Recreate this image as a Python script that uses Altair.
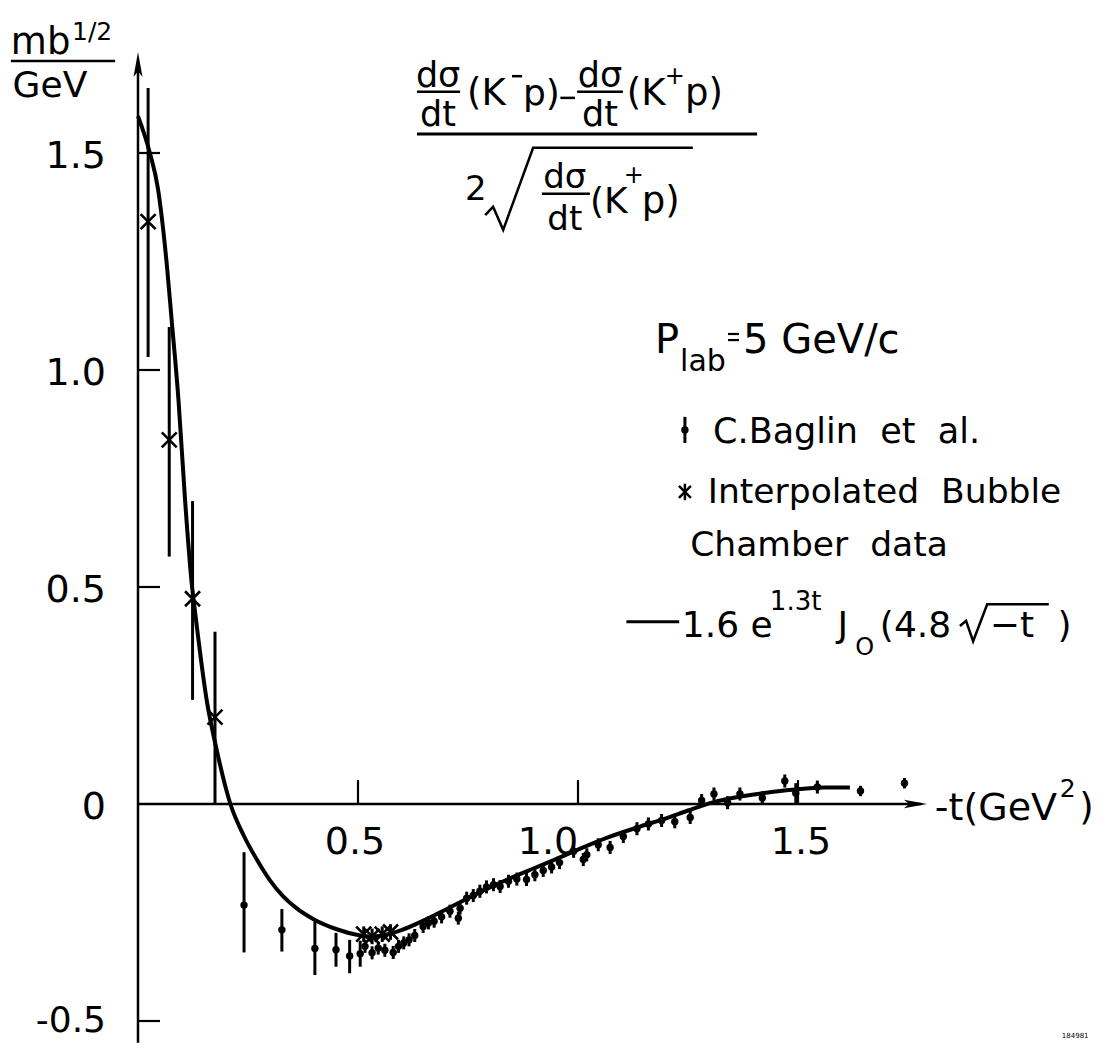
import altair as alt
import pandas as pd

# ------------------------------------------------------------------ data
# fitted curve
curve_t = [0.0, 0.027, 0.045, 0.066, 0.0765, 0.092, 0.107, 0.122, 0.13, 0.156,
           0.179, 0.21, 0.24, 0.27, 0.30, 0.33, 0.36, 0.40, 0.45, 0.50,
           0.53, 0.56, 0.60, 0.65, 0.70, 0.75, 0.80, 0.853, 0.90, 0.95,
           1.0, 1.065, 1.141, 1.20, 1.25, 1.30, 1.35, 1.40, 1.45, 1.50,
           1.56, 1.618]
curve_v = [1.585, 1.50, 1.42, 1.237, 1.115, 0.931, 0.70, 0.509, 0.44, 0.24,
           0.124, 0.0, -0.072, -0.128, -0.176, -0.213, -0.240, -0.266, -0.288, -0.302,
           -0.306, -0.302, -0.290, -0.268, -0.243, -0.217, -0.192, -0.168, -0.148, -0.127,
           -0.105, -0.078, -0.052, -0.033, -0.015, 0.002, 0.014, 0.022, 0.029, 0.034,
           0.038, 0.038]

# C. Baglin et al. points
baglin_t = [0.241, 0.327, 0.402, 0.450, 0.481, 0.505, 0.516, 0.532, 0.546, 0.561,
            0.580, 0.592, 0.604, 0.616, 0.629, 0.648, 0.660, 0.673, 0.690, 0.709,
            0.728, 0.732, 0.747, 0.762, 0.777, 0.792, 0.808, 0.823, 0.842, 0.861,
            0.883, 0.902, 0.921, 0.940, 0.958, 0.990, 1.012, 1.020, 1.046, 1.073,
            1.103, 1.134, 1.160, 1.190, 1.220, 1.255, 1.281, 1.309, 1.340, 1.368,
            1.419, 1.470, 1.495, 1.544, 1.642, 1.742]
baglin_v = [-0.233, -0.290, -0.333, -0.336, -0.350, -0.345, -0.328, -0.343, -0.332, -0.337,
            -0.342, -0.328, -0.320, -0.313, -0.303, -0.282, -0.274, -0.270, -0.260, -0.247,
            -0.263, -0.240, -0.217, -0.211, -0.201, -0.191, -0.186, -0.190, -0.178, -0.173,
            -0.174, -0.163, -0.153, -0.145, -0.135, -0.109, -0.128, -0.117, -0.094, -0.100,
            -0.075, -0.057, -0.046, -0.038, -0.041, -0.031, 0.008, 0.023, 0.003, 0.023,
            0.014, 0.053, 0.025, 0.039, 0.030, 0.048]
baglin_err_lo = [0.109, 0.050, 0.061, 0.039, 0.040, 0.030, 0.015, 0.015, 0.015, 0.015,
                 0.015, 0.015, 0.015, 0.015, 0.015, 0.015, 0.015, 0.015, 0.015, 0.015,
                 0.015, 0.015, 0.015, 0.015, 0.015, 0.015, 0.015, 0.015, 0.015, 0.015,
                 0.015, 0.015, 0.015, 0.015, 0.015, 0.015, 0.015, 0.015, 0.015, 0.015,
                 0.015, 0.015, 0.015, 0.015, 0.015, 0.015, 0.015, 0.015, 0.015, 0.015,
                 0.015, 0.015, 0.025, 0.015, 0.012, 0.012]
baglin_err_hi = [0.122, 0.048, 0.062, 0.039, 0.037, 0.030, 0.015, 0.015, 0.015, 0.015,
                 0.015, 0.015, 0.015, 0.015, 0.015, 0.015, 0.015, 0.015, 0.015, 0.015,
                 0.015, 0.015, 0.015, 0.015, 0.015, 0.015, 0.015, 0.015, 0.015, 0.015,
                 0.015, 0.015, 0.015, 0.015, 0.015, 0.015, 0.015, 0.015, 0.015, 0.015,
                 0.015, 0.015, 0.015, 0.015, 0.015, 0.015, 0.015, 0.015, 0.015, 0.015,
                 0.015, 0.015, 0.023, 0.015, 0.012, 0.012]

# interpolated bubble chamber data
bc_t = [0.023, 0.071, 0.124, 0.175, 0.513, 0.532, 0.555, 0.574]
bc_v = [1.342, 0.839, 0.473, 0.200, -0.300, -0.305, -0.300, -0.295]
bc_lo = [1.030, 0.570, 0.240, 0.000, -0.318, -0.323, -0.318, -0.313]
bc_hi = [1.650, 1.099, 0.698, 0.397, -0.282, -0.287, -0.282, -0.277]

# axes
y_tick_values = [1.5, 1.0, 0.5, -0.5]
y_label_values = [1.5, 1.0, 0.5, 0.0, -0.5]
y_label_texts = ["1.5", "1.0", "0.5", "0", "-0.5"]
x_tick_values = [0.5, 1.0, 1.5]
x_label_texts = ["0.5", "1.0", "1.5"]
x_label_pos = [0.493, 0.932, 1.507]

# ------------------------------------------------------------------ scales
FONT = "DejaVu Sans"
NB = "\u00a0"
XS = alt.Scale(domain=[-0.29545, 2.18182], nice=False, zero=False)
YS = alt.Scale(domain=[-0.55069, 1.83410], nice=False, zero=False)


def X(f="t"):
    return alt.X(f"{f}:Q", scale=XS, axis=None)


def Y(f="v"):
    return alt.Y(f"{f}:Q", scale=YS, axis=None)


def rules(rows, width=2.5):
    df = pd.DataFrame(rows, columns=["t", "t2", "v", "v2"])
    return alt.Chart(df).mark_rule(color="black", strokeWidth=width).encode(
        x=X(), x2="t2:Q", y=Y(), y2="v2:Q")


def texts(rows, align="left"):
    df = pd.DataFrame(rows, columns=["text", "t", "v", "size"])
    return alt.Chart(df).mark_text(align=align, baseline="alphabetic", font=FONT,
                                   color="black").encode(
        x=X(), y=Y(), text="text:N",
        size=alt.Size("size:Q", scale=None, legend=None))


layers = []

# axis lines
layers.append(rules([[0.0, 0.0, -0.55, 1.70], [0.0, 1.78, 0.0, 0.0]], 2.5))
# ticks
layers.append(rules([[0.0, 0.05, yv, yv] for yv in y_tick_values], 2.2))
layers.append(rules([[xv, xv, 0.0, 0.055] for xv in x_tick_values], 2.2))

# arrowheads
arrow = "M0,-1L0.36,1L0,0.55L-0.36,1Z"
layers.append(alt.Chart(pd.DataFrame({"t": [0.0], "v": [1.704]})).mark_point(
    shape=arrow, filled=True, color="black", size=625, opacity=1).encode(x=X(), y=Y()))
layers.append(alt.Chart(pd.DataFrame({"t": [1.767], "v": [0.0]})).mark_point(
    shape=arrow, filled=True, color="black", size=529, angle=90, opacity=1).encode(x=X(), y=Y()))

# tick labels
ylab_rows = [[s, -0.0727, yv - 0.034, 38] for s, yv in zip(y_label_texts[:-1], y_label_values[:-1])]
ylab_rows.append([y_label_texts[-1], -0.0727, y_label_values[-1] - 0.025, 36])
layers.append(texts(ylab_rows, "right"))
layers.append(texts([[s, xp, -0.115, 38] for s, xp in zip(x_label_texts, x_label_pos)], "center"))

# curve
curve_df = pd.DataFrame({"t": curve_t, "v": curve_v})
layers.append(alt.Chart(curve_df).mark_line(color="black", strokeWidth=4,
                                            interpolate="monotone").encode(x=X(), y=Y()))

# Baglin error bars + dots
bag_df = pd.DataFrame({"t": baglin_t, "v": baglin_v,
                       "lo": [v - e for v, e in zip(baglin_v, baglin_err_lo)],
                       "hi": [v + e for v, e in zip(baglin_v, baglin_err_hi)]})
layers.append(alt.Chart(bag_df).mark_rule(color="black", strokeWidth=3).encode(
    x=X(), y=Y("lo"), y2="hi:Q"))
layers.append(alt.Chart(bag_df).mark_point(shape="circle", filled=True, color="black",
                                           size=55, opacity=1).encode(x=X(), y=Y()))

# bubble chamber error bars + crosses
bc_df = pd.DataFrame({"t": bc_t, "v": bc_v, "lo": bc_lo, "hi": bc_hi})
layers.append(alt.Chart(bc_df).mark_rule(color="black", strokeWidth=3).encode(
    x=X(), y=Y("lo"), y2="hi:Q"))
xmark = "M-1,-1L1,1M-1,1L1,-1"
layers.append(alt.Chart(bc_df).mark_point(shape=xmark, filled=False, color="black",
                                          strokeWidth=2.6, size=225, opacity=1).encode(x=X(), y=Y()))

# ---------------- title formula
layers.append(texts([["dσ", 0.682, 1.652, 35], ["dt", 0.682, 1.562, 35],
                     ["dσ", 1.050, 1.652, 35], ["dt", 1.050, 1.562, 35],
                     ["dσ", 0.970, 1.419, 34], ["dt", 0.970, 1.323, 34],
                     ["2", 0.768, 1.392, 34], ["+", 1.220, 1.659, 24],
                     ["+", 1.127, 1.430, 24]], "center"))
layers.append(texts([["(K", 0.748, 1.611, 37], ["p)", 0.875, 1.611, 36],
                     ["(K", 1.111, 1.611, 37], ["p)", 1.243, 1.611, 37],
                     ["(K", 1.027, 1.362, 36], ["p)", 1.145, 1.362, 37]], "left"))
layers.append(rules([[0.634, 0.732, 1.641, 1.641], [0.998, 1.102, 1.641, 1.641],
                     [0.918, 1.027, 1.406, 1.406], [0.850, 0.873, 1.677, 1.677],
                     [0.960, 0.993, 1.627, 1.627]], 2.5))
layers.append(rules([[0.634, 1.407, 1.544, 1.544]], 3))

# radicals (title and legend)
rad_df = pd.DataFrame({
    "t": [0.789, 0.807, 0.830, 0.898, 1.261, 1.868, 1.882, 1.898, 1.930, 2.07],
    "v": [1.357, 1.376, 1.323, 1.512, 1.512, 0.410, 0.422, 0.375, 0.460, 0.460],
    "g": ["a"] * 5 + ["b"] * 5,
    "o": [0, 1, 2, 3, 4, 0, 1, 2, 3, 4]})
layers.append(alt.Chart(rad_df).mark_line(color="black", strokeWidth=2.5).encode(
    x=X(), y=Y(), detail="g:N", order="o:Q"))

# ---------------- unit label (top left)
layers.append(texts([["mb", -0.289, 1.728, 37], ["1/2", -0.150, 1.760, 25],
                     ["GeV", -0.285, 1.630, 36]], "left"))
layers.append(rules([[-0.289, -0.052, 1.712, 1.712]], 2.5))

# ---------------- x axis title
layers.append(texts([["-t(GeV", 1.811, -0.037, 38], ["2", 2.095, 0.016, 25],
                     [")", 2.139, -0.037, 37]], "left"))

# ---------------- legend
layers.append(texts([["P", 1.175, 1.039, 40], ["lab", 1.232, 0.998, 30],
                     ["5 GeV/c", 1.375, 1.039, 40],
                     [f"C.Baglin{NB}{NB}et{NB}{NB}al.", 1.307, 0.832, 35],
                     [f"Interpolated{NB}{NB}Bubble", 1.295, 0.694, 34.5],
                     [f"Chamber{NB}{NB}data", 1.255, 0.572, 34.5],
                     ["1.6 e", 1.236, 0.385, 36], ["1.3t", 1.436, 0.448, 26],
                     ["J", 1.590, 0.385, 36], ["O", 1.630, 0.344, 24],
                     ["(4.8", 1.686, 0.385, 36], ["−t", 1.936, 0.385, 36],
                     [")", 2.09, 0.385, 36]], "left"))
layers.append(rules([[1.341, 1.366, 1.083, 1.083], [1.341, 1.366, 1.069, 1.069]], 2.2))
layers.append(rules([[1.11, 1.23, 0.420, 0.420]], 3))
layers.append(rules([[1.243, 1.243, 0.832, 0.892]], 3))
layers.append(alt.Chart(pd.DataFrame({"t": [1.243], "v": [0.862]})).mark_point(
    shape="circle", filled=True, color="black", size=55, opacity=1).encode(x=X(), y=Y()))
layers.append(rules([[1.243, 1.243, 0.700, 0.738]], 2.5))
layers.append(alt.Chart(pd.DataFrame({"t": [1.243], "v": [0.719]})).mark_point(
    shape=xmark, filled=False, color="black", strokeWidth=2.5, size=144, opacity=1).encode(x=X(), y=Y()))

# small figure number
layers.append(texts([["184981", 2.13, -0.540, 7]], "center"))

chart = alt.layer(*layers).properties(
    width=1090, height=1035,
    autosize=alt.AutoSizeParams(type="none"),
    padding=0,
    background="white",
).configure_view(strokeWidth=0)

chart.save("out.html", embed_options={"renderer": "svg", "actions": False})
